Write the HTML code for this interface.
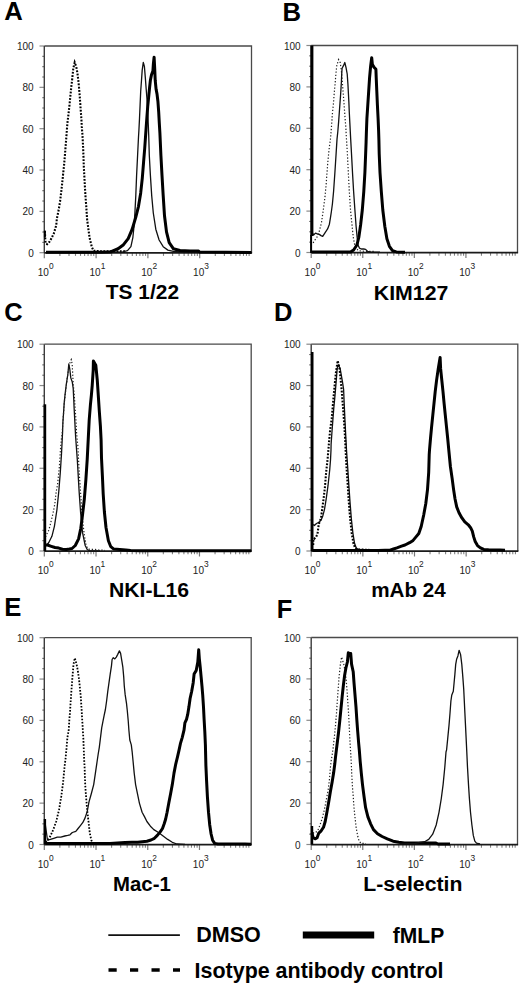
<!DOCTYPE html>
<html><head><meta charset="utf-8"><style>
html,body{margin:0;padding:0;background:#fff;}
body{width:520px;height:984px;overflow:hidden;}
svg{display:block;}
text{font-family:"Liberation Sans",sans-serif;}
.tk{font-size:10px;fill:#222;}
.sp{font-size:8.4px;fill:#222;}
.let{font-size:25.8px;font-weight:bold;fill:#000;}
.tit{font-size:20.9px;font-weight:bold;fill:#000;}
.leg{font-size:21.3px;font-weight:bold;fill:#000;}
.thin{fill:none;stroke:#111;stroke-width:1.3;stroke-linejoin:round;}
.thick{fill:none;stroke:#000;stroke-width:3;stroke-linejoin:round;}
.dot{fill:none;stroke:#000;stroke-width:2.1;stroke-dasharray:1.8 1.5;}
.dotm{fill:none;stroke:#000;stroke-width:1.8;stroke-dasharray:1.6 1.6;}
.dotl{fill:none;stroke:#222;stroke-width:1.2;stroke-dasharray:1.3 1.9;}
</style></head><body>
<svg width="520" height="984" viewBox="0 0 520 984">
<path d="M44.3 46H251.5V252.7" fill="none" stroke="#4a4a4a" stroke-width="1.3"/>
<path d="M39.5 252.7H44.3" stroke="#8a8a8a" stroke-width="1.2"/>
<text x="33.7" y="256.7" class="tk" text-anchor="end">0</text>
<path d="M42.3 242.36H44.3" stroke="#6a6a6a" stroke-width="1.1"/>
<path d="M42.3 232.03H44.3" stroke="#6a6a6a" stroke-width="1.1"/>
<path d="M42.3 221.69H44.3" stroke="#6a6a6a" stroke-width="1.1"/>
<path d="M39.5 211.36H44.3" stroke="#8a8a8a" stroke-width="1.2"/>
<text x="33.7" y="215.36" class="tk" text-anchor="end">20</text>
<path d="M42.3 201.02H44.3" stroke="#6a6a6a" stroke-width="1.1"/>
<path d="M42.3 190.69H44.3" stroke="#6a6a6a" stroke-width="1.1"/>
<path d="M42.3 180.36H44.3" stroke="#6a6a6a" stroke-width="1.1"/>
<path d="M39.5 170.02H44.3" stroke="#8a8a8a" stroke-width="1.2"/>
<text x="33.7" y="174.02" class="tk" text-anchor="end">40</text>
<path d="M42.3 159.69H44.3" stroke="#6a6a6a" stroke-width="1.1"/>
<path d="M42.3 149.35H44.3" stroke="#6a6a6a" stroke-width="1.1"/>
<path d="M42.3 139.01H44.3" stroke="#6a6a6a" stroke-width="1.1"/>
<path d="M39.5 128.68H44.3" stroke="#8a8a8a" stroke-width="1.2"/>
<text x="33.7" y="132.68" class="tk" text-anchor="end">60</text>
<path d="M42.3 118.34H44.3" stroke="#6a6a6a" stroke-width="1.1"/>
<path d="M42.3 108.01H44.3" stroke="#6a6a6a" stroke-width="1.1"/>
<path d="M42.3 97.68H44.3" stroke="#6a6a6a" stroke-width="1.1"/>
<path d="M39.5 87.34H44.3" stroke="#8a8a8a" stroke-width="1.2"/>
<text x="33.7" y="91.34" class="tk" text-anchor="end">80</text>
<path d="M42.3 77H44.3" stroke="#6a6a6a" stroke-width="1.1"/>
<path d="M42.3 66.67H44.3" stroke="#6a6a6a" stroke-width="1.1"/>
<path d="M42.3 56.34H44.3" stroke="#6a6a6a" stroke-width="1.1"/>
<path d="M39.5 46H44.3" stroke="#8a8a8a" stroke-width="1.2"/>
<text x="33.7" y="50" class="tk" text-anchor="end">100</text>
<path d="M44.3 252.7V258.2" stroke="#7a7a7a" stroke-width="1.2"/>
<text x="37.7" y="275.9" class="tk">10</text>
<text x="48.9" y="268.9" class="sp">0</text>
<path d="M59.89 252.7V255.9" stroke="#808080" stroke-width="1.1"/>
<path d="M69.01 252.7V255.9" stroke="#808080" stroke-width="1.1"/>
<path d="M75.49 252.7V255.9" stroke="#808080" stroke-width="1.1"/>
<path d="M80.51 252.7V255.9" stroke="#808080" stroke-width="1.1"/>
<path d="M84.61 252.7V255.9" stroke="#808080" stroke-width="1.1"/>
<path d="M88.08 252.7V255.9" stroke="#808080" stroke-width="1.1"/>
<path d="M91.08 252.7V255.9" stroke="#808080" stroke-width="1.1"/>
<path d="M93.73 252.7V255.9" stroke="#808080" stroke-width="1.1"/>
<path d="M96.1 252.7V258.2" stroke="#7a7a7a" stroke-width="1.2"/>
<text x="89.5" y="275.9" class="tk">10</text>
<text x="100.7" y="268.9" class="sp">1</text>
<path d="M111.69 252.7V255.9" stroke="#808080" stroke-width="1.1"/>
<path d="M120.81 252.7V255.9" stroke="#808080" stroke-width="1.1"/>
<path d="M127.29 252.7V255.9" stroke="#808080" stroke-width="1.1"/>
<path d="M132.31 252.7V255.9" stroke="#808080" stroke-width="1.1"/>
<path d="M136.41 252.7V255.9" stroke="#808080" stroke-width="1.1"/>
<path d="M139.88 252.7V255.9" stroke="#808080" stroke-width="1.1"/>
<path d="M142.88 252.7V255.9" stroke="#808080" stroke-width="1.1"/>
<path d="M145.53 252.7V255.9" stroke="#808080" stroke-width="1.1"/>
<path d="M147.9 252.7V258.2" stroke="#7a7a7a" stroke-width="1.2"/>
<text x="141.3" y="275.9" class="tk">10</text>
<text x="152.5" y="268.9" class="sp">2</text>
<path d="M163.49 252.7V255.9" stroke="#808080" stroke-width="1.1"/>
<path d="M172.61 252.7V255.9" stroke="#808080" stroke-width="1.1"/>
<path d="M179.09 252.7V255.9" stroke="#808080" stroke-width="1.1"/>
<path d="M184.11 252.7V255.9" stroke="#808080" stroke-width="1.1"/>
<path d="M188.21 252.7V255.9" stroke="#808080" stroke-width="1.1"/>
<path d="M191.68 252.7V255.9" stroke="#808080" stroke-width="1.1"/>
<path d="M194.68 252.7V255.9" stroke="#808080" stroke-width="1.1"/>
<path d="M197.33 252.7V255.9" stroke="#808080" stroke-width="1.1"/>
<path d="M199.7 252.7V258.2" stroke="#7a7a7a" stroke-width="1.2"/>
<text x="193.1" y="275.9" class="tk">10</text>
<text x="204.3" y="268.9" class="sp">3</text>
<path d="M215.29 252.7V255.9" stroke="#808080" stroke-width="1.1"/>
<path d="M224.41 252.7V255.9" stroke="#808080" stroke-width="1.1"/>
<path d="M230.89 252.7V255.9" stroke="#808080" stroke-width="1.1"/>
<path d="M235.91 252.7V255.9" stroke="#808080" stroke-width="1.1"/>
<path d="M240.01 252.7V255.9" stroke="#808080" stroke-width="1.1"/>
<path d="M243.48 252.7V255.9" stroke="#808080" stroke-width="1.1"/>
<path d="M246.48 252.7V255.9" stroke="#808080" stroke-width="1.1"/>
<path d="M249.13 252.7V255.9" stroke="#808080" stroke-width="1.1"/>
<path d="M44.3 46V252.7" stroke="#3c3c3c" stroke-width="1.4"/>
<path d="M44.3 252.9H252.1" stroke="#1a1a1a" stroke-width="1.75"/>
<path d="M311.2 45.5H517.5V252.5" fill="none" stroke="#4a4a4a" stroke-width="1.3"/>
<path d="M306.4 252.5H311.2" stroke="#8a8a8a" stroke-width="1.2"/>
<text x="300.6" y="256.5" class="tk" text-anchor="end">0</text>
<path d="M309.2 242.15H311.2" stroke="#6a6a6a" stroke-width="1.1"/>
<path d="M309.2 231.8H311.2" stroke="#6a6a6a" stroke-width="1.1"/>
<path d="M309.2 221.45H311.2" stroke="#6a6a6a" stroke-width="1.1"/>
<path d="M306.4 211.1H311.2" stroke="#8a8a8a" stroke-width="1.2"/>
<text x="300.6" y="215.1" class="tk" text-anchor="end">20</text>
<path d="M309.2 200.75H311.2" stroke="#6a6a6a" stroke-width="1.1"/>
<path d="M309.2 190.4H311.2" stroke="#6a6a6a" stroke-width="1.1"/>
<path d="M309.2 180.05H311.2" stroke="#6a6a6a" stroke-width="1.1"/>
<path d="M306.4 169.7H311.2" stroke="#8a8a8a" stroke-width="1.2"/>
<text x="300.6" y="173.7" class="tk" text-anchor="end">40</text>
<path d="M309.2 159.35H311.2" stroke="#6a6a6a" stroke-width="1.1"/>
<path d="M309.2 149H311.2" stroke="#6a6a6a" stroke-width="1.1"/>
<path d="M309.2 138.65H311.2" stroke="#6a6a6a" stroke-width="1.1"/>
<path d="M306.4 128.3H311.2" stroke="#8a8a8a" stroke-width="1.2"/>
<text x="300.6" y="132.3" class="tk" text-anchor="end">60</text>
<path d="M309.2 117.95H311.2" stroke="#6a6a6a" stroke-width="1.1"/>
<path d="M309.2 107.6H311.2" stroke="#6a6a6a" stroke-width="1.1"/>
<path d="M309.2 97.25H311.2" stroke="#6a6a6a" stroke-width="1.1"/>
<path d="M306.4 86.9H311.2" stroke="#8a8a8a" stroke-width="1.2"/>
<text x="300.6" y="90.9" class="tk" text-anchor="end">80</text>
<path d="M309.2 76.55H311.2" stroke="#6a6a6a" stroke-width="1.1"/>
<path d="M309.2 66.2H311.2" stroke="#6a6a6a" stroke-width="1.1"/>
<path d="M309.2 55.85H311.2" stroke="#6a6a6a" stroke-width="1.1"/>
<path d="M306.4 45.5H311.2" stroke="#8a8a8a" stroke-width="1.2"/>
<text x="300.6" y="49.5" class="tk" text-anchor="end">100</text>
<path d="M311.2 252.5V258" stroke="#7a7a7a" stroke-width="1.2"/>
<text x="304.6" y="275.7" class="tk">10</text>
<text x="315.8" y="268.7" class="sp">0</text>
<path d="M326.73 252.5V255.7" stroke="#808080" stroke-width="1.1"/>
<path d="M335.81 252.5V255.7" stroke="#808080" stroke-width="1.1"/>
<path d="M342.25 252.5V255.7" stroke="#808080" stroke-width="1.1"/>
<path d="M347.25 252.5V255.7" stroke="#808080" stroke-width="1.1"/>
<path d="M351.33 252.5V255.7" stroke="#808080" stroke-width="1.1"/>
<path d="M354.79 252.5V255.7" stroke="#808080" stroke-width="1.1"/>
<path d="M357.78 252.5V255.7" stroke="#808080" stroke-width="1.1"/>
<path d="M360.42 252.5V255.7" stroke="#808080" stroke-width="1.1"/>
<path d="M362.77 252.5V258" stroke="#7a7a7a" stroke-width="1.2"/>
<text x="356.17" y="275.7" class="tk">10</text>
<text x="367.38" y="268.7" class="sp">1</text>
<path d="M378.3 252.5V255.7" stroke="#808080" stroke-width="1.1"/>
<path d="M387.38 252.5V255.7" stroke="#808080" stroke-width="1.1"/>
<path d="M393.83 252.5V255.7" stroke="#808080" stroke-width="1.1"/>
<path d="M398.82 252.5V255.7" stroke="#808080" stroke-width="1.1"/>
<path d="M402.91 252.5V255.7" stroke="#808080" stroke-width="1.1"/>
<path d="M406.36 252.5V255.7" stroke="#808080" stroke-width="1.1"/>
<path d="M409.35 252.5V255.7" stroke="#808080" stroke-width="1.1"/>
<path d="M411.99 252.5V255.7" stroke="#808080" stroke-width="1.1"/>
<path d="M414.35 252.5V258" stroke="#7a7a7a" stroke-width="1.2"/>
<text x="407.75" y="275.7" class="tk">10</text>
<text x="418.95" y="268.7" class="sp">2</text>
<path d="M429.88 252.5V255.7" stroke="#808080" stroke-width="1.1"/>
<path d="M438.96 252.5V255.7" stroke="#808080" stroke-width="1.1"/>
<path d="M445.4 252.5V255.7" stroke="#808080" stroke-width="1.1"/>
<path d="M450.4 252.5V255.7" stroke="#808080" stroke-width="1.1"/>
<path d="M454.48 252.5V255.7" stroke="#808080" stroke-width="1.1"/>
<path d="M457.94 252.5V255.7" stroke="#808080" stroke-width="1.1"/>
<path d="M460.93 252.5V255.7" stroke="#808080" stroke-width="1.1"/>
<path d="M463.57 252.5V255.7" stroke="#808080" stroke-width="1.1"/>
<path d="M465.93 252.5V258" stroke="#7a7a7a" stroke-width="1.2"/>
<text x="459.32" y="275.7" class="tk">10</text>
<text x="470.53" y="268.7" class="sp">3</text>
<path d="M481.45 252.5V255.7" stroke="#808080" stroke-width="1.1"/>
<path d="M490.53 252.5V255.7" stroke="#808080" stroke-width="1.1"/>
<path d="M496.98 252.5V255.7" stroke="#808080" stroke-width="1.1"/>
<path d="M501.97 252.5V255.7" stroke="#808080" stroke-width="1.1"/>
<path d="M506.06 252.5V255.7" stroke="#808080" stroke-width="1.1"/>
<path d="M509.51 252.5V255.7" stroke="#808080" stroke-width="1.1"/>
<path d="M512.5 252.5V255.7" stroke="#808080" stroke-width="1.1"/>
<path d="M515.14 252.5V255.7" stroke="#808080" stroke-width="1.1"/>
<path d="M311.2 45.5V252.5" stroke="#3c3c3c" stroke-width="1.4"/>
<path d="M311.2 252.7H518.1" stroke="#1a1a1a" stroke-width="1.75"/>
<path d="M44.3 344.2H251.2V551" fill="none" stroke="#4a4a4a" stroke-width="1.3"/>
<path d="M39.5 551H44.3" stroke="#8a8a8a" stroke-width="1.2"/>
<text x="33.7" y="555" class="tk" text-anchor="end">0</text>
<path d="M42.3 540.66H44.3" stroke="#6a6a6a" stroke-width="1.1"/>
<path d="M42.3 530.32H44.3" stroke="#6a6a6a" stroke-width="1.1"/>
<path d="M42.3 519.98H44.3" stroke="#6a6a6a" stroke-width="1.1"/>
<path d="M39.5 509.64H44.3" stroke="#8a8a8a" stroke-width="1.2"/>
<text x="33.7" y="513.64" class="tk" text-anchor="end">20</text>
<path d="M42.3 499.3H44.3" stroke="#6a6a6a" stroke-width="1.1"/>
<path d="M42.3 488.96H44.3" stroke="#6a6a6a" stroke-width="1.1"/>
<path d="M42.3 478.62H44.3" stroke="#6a6a6a" stroke-width="1.1"/>
<path d="M39.5 468.28H44.3" stroke="#8a8a8a" stroke-width="1.2"/>
<text x="33.7" y="472.28" class="tk" text-anchor="end">40</text>
<path d="M42.3 457.94H44.3" stroke="#6a6a6a" stroke-width="1.1"/>
<path d="M42.3 447.6H44.3" stroke="#6a6a6a" stroke-width="1.1"/>
<path d="M42.3 437.26H44.3" stroke="#6a6a6a" stroke-width="1.1"/>
<path d="M39.5 426.92H44.3" stroke="#8a8a8a" stroke-width="1.2"/>
<text x="33.7" y="430.92" class="tk" text-anchor="end">60</text>
<path d="M42.3 416.58H44.3" stroke="#6a6a6a" stroke-width="1.1"/>
<path d="M42.3 406.24H44.3" stroke="#6a6a6a" stroke-width="1.1"/>
<path d="M42.3 395.9H44.3" stroke="#6a6a6a" stroke-width="1.1"/>
<path d="M39.5 385.56H44.3" stroke="#8a8a8a" stroke-width="1.2"/>
<text x="33.7" y="389.56" class="tk" text-anchor="end">80</text>
<path d="M42.3 375.22H44.3" stroke="#6a6a6a" stroke-width="1.1"/>
<path d="M42.3 364.88H44.3" stroke="#6a6a6a" stroke-width="1.1"/>
<path d="M42.3 354.54H44.3" stroke="#6a6a6a" stroke-width="1.1"/>
<path d="M39.5 344.2H44.3" stroke="#8a8a8a" stroke-width="1.2"/>
<text x="33.7" y="348.2" class="tk" text-anchor="end">100</text>
<path d="M44.3 551V556.5" stroke="#7a7a7a" stroke-width="1.2"/>
<text x="37.7" y="574.2" class="tk">10</text>
<text x="48.9" y="567.2" class="sp">0</text>
<path d="M59.87 551V554.2" stroke="#808080" stroke-width="1.1"/>
<path d="M68.98 551V554.2" stroke="#808080" stroke-width="1.1"/>
<path d="M75.44 551V554.2" stroke="#808080" stroke-width="1.1"/>
<path d="M80.45 551V554.2" stroke="#808080" stroke-width="1.1"/>
<path d="M84.55 551V554.2" stroke="#808080" stroke-width="1.1"/>
<path d="M88.01 551V554.2" stroke="#808080" stroke-width="1.1"/>
<path d="M91.01 551V554.2" stroke="#808080" stroke-width="1.1"/>
<path d="M93.66 551V554.2" stroke="#808080" stroke-width="1.1"/>
<path d="M96.02 551V556.5" stroke="#7a7a7a" stroke-width="1.2"/>
<text x="89.42" y="574.2" class="tk">10</text>
<text x="100.62" y="567.2" class="sp">1</text>
<path d="M111.6 551V554.2" stroke="#808080" stroke-width="1.1"/>
<path d="M120.7 551V554.2" stroke="#808080" stroke-width="1.1"/>
<path d="M127.17 551V554.2" stroke="#808080" stroke-width="1.1"/>
<path d="M132.18 551V554.2" stroke="#808080" stroke-width="1.1"/>
<path d="M136.27 551V554.2" stroke="#808080" stroke-width="1.1"/>
<path d="M139.74 551V554.2" stroke="#808080" stroke-width="1.1"/>
<path d="M142.74 551V554.2" stroke="#808080" stroke-width="1.1"/>
<path d="M145.38 551V554.2" stroke="#808080" stroke-width="1.1"/>
<path d="M147.75 551V556.5" stroke="#7a7a7a" stroke-width="1.2"/>
<text x="141.15" y="574.2" class="tk">10</text>
<text x="152.35" y="567.2" class="sp">2</text>
<path d="M163.32 551V554.2" stroke="#808080" stroke-width="1.1"/>
<path d="M172.43 551V554.2" stroke="#808080" stroke-width="1.1"/>
<path d="M178.89 551V554.2" stroke="#808080" stroke-width="1.1"/>
<path d="M183.9 551V554.2" stroke="#808080" stroke-width="1.1"/>
<path d="M188 551V554.2" stroke="#808080" stroke-width="1.1"/>
<path d="M191.46 551V554.2" stroke="#808080" stroke-width="1.1"/>
<path d="M194.46 551V554.2" stroke="#808080" stroke-width="1.1"/>
<path d="M197.11 551V554.2" stroke="#808080" stroke-width="1.1"/>
<path d="M199.47 551V556.5" stroke="#7a7a7a" stroke-width="1.2"/>
<text x="192.87" y="574.2" class="tk">10</text>
<text x="204.07" y="567.2" class="sp">3</text>
<path d="M215.05 551V554.2" stroke="#808080" stroke-width="1.1"/>
<path d="M224.15 551V554.2" stroke="#808080" stroke-width="1.1"/>
<path d="M230.62 551V554.2" stroke="#808080" stroke-width="1.1"/>
<path d="M235.63 551V554.2" stroke="#808080" stroke-width="1.1"/>
<path d="M239.72 551V554.2" stroke="#808080" stroke-width="1.1"/>
<path d="M243.19 551V554.2" stroke="#808080" stroke-width="1.1"/>
<path d="M246.19 551V554.2" stroke="#808080" stroke-width="1.1"/>
<path d="M248.83 551V554.2" stroke="#808080" stroke-width="1.1"/>
<path d="M44.3 344.2V551" stroke="#3c3c3c" stroke-width="1.4"/>
<path d="M44.3 551.2H251.8" stroke="#1a1a1a" stroke-width="1.75"/>
<path d="M311.2 344.2H517.8V551" fill="none" stroke="#4a4a4a" stroke-width="1.3"/>
<path d="M306.4 551H311.2" stroke="#8a8a8a" stroke-width="1.2"/>
<text x="300.6" y="555" class="tk" text-anchor="end">0</text>
<path d="M309.2 540.66H311.2" stroke="#6a6a6a" stroke-width="1.1"/>
<path d="M309.2 530.32H311.2" stroke="#6a6a6a" stroke-width="1.1"/>
<path d="M309.2 519.98H311.2" stroke="#6a6a6a" stroke-width="1.1"/>
<path d="M306.4 509.64H311.2" stroke="#8a8a8a" stroke-width="1.2"/>
<text x="300.6" y="513.64" class="tk" text-anchor="end">20</text>
<path d="M309.2 499.3H311.2" stroke="#6a6a6a" stroke-width="1.1"/>
<path d="M309.2 488.96H311.2" stroke="#6a6a6a" stroke-width="1.1"/>
<path d="M309.2 478.62H311.2" stroke="#6a6a6a" stroke-width="1.1"/>
<path d="M306.4 468.28H311.2" stroke="#8a8a8a" stroke-width="1.2"/>
<text x="300.6" y="472.28" class="tk" text-anchor="end">40</text>
<path d="M309.2 457.94H311.2" stroke="#6a6a6a" stroke-width="1.1"/>
<path d="M309.2 447.6H311.2" stroke="#6a6a6a" stroke-width="1.1"/>
<path d="M309.2 437.26H311.2" stroke="#6a6a6a" stroke-width="1.1"/>
<path d="M306.4 426.92H311.2" stroke="#8a8a8a" stroke-width="1.2"/>
<text x="300.6" y="430.92" class="tk" text-anchor="end">60</text>
<path d="M309.2 416.58H311.2" stroke="#6a6a6a" stroke-width="1.1"/>
<path d="M309.2 406.24H311.2" stroke="#6a6a6a" stroke-width="1.1"/>
<path d="M309.2 395.9H311.2" stroke="#6a6a6a" stroke-width="1.1"/>
<path d="M306.4 385.56H311.2" stroke="#8a8a8a" stroke-width="1.2"/>
<text x="300.6" y="389.56" class="tk" text-anchor="end">80</text>
<path d="M309.2 375.22H311.2" stroke="#6a6a6a" stroke-width="1.1"/>
<path d="M309.2 364.88H311.2" stroke="#6a6a6a" stroke-width="1.1"/>
<path d="M309.2 354.54H311.2" stroke="#6a6a6a" stroke-width="1.1"/>
<path d="M306.4 344.2H311.2" stroke="#8a8a8a" stroke-width="1.2"/>
<text x="300.6" y="348.2" class="tk" text-anchor="end">100</text>
<path d="M311.2 551V556.5" stroke="#7a7a7a" stroke-width="1.2"/>
<text x="304.6" y="574.2" class="tk">10</text>
<text x="315.8" y="567.2" class="sp">0</text>
<path d="M326.75 551V554.2" stroke="#808080" stroke-width="1.1"/>
<path d="M335.84 551V554.2" stroke="#808080" stroke-width="1.1"/>
<path d="M342.3 551V554.2" stroke="#808080" stroke-width="1.1"/>
<path d="M347.3 551V554.2" stroke="#808080" stroke-width="1.1"/>
<path d="M351.39 551V554.2" stroke="#808080" stroke-width="1.1"/>
<path d="M354.85 551V554.2" stroke="#808080" stroke-width="1.1"/>
<path d="M357.84 551V554.2" stroke="#808080" stroke-width="1.1"/>
<path d="M360.49 551V554.2" stroke="#808080" stroke-width="1.1"/>
<path d="M362.85 551V556.5" stroke="#7a7a7a" stroke-width="1.2"/>
<text x="356.25" y="574.2" class="tk">10</text>
<text x="367.45" y="567.2" class="sp">1</text>
<path d="M378.4 551V554.2" stroke="#808080" stroke-width="1.1"/>
<path d="M387.49 551V554.2" stroke="#808080" stroke-width="1.1"/>
<path d="M393.95 551V554.2" stroke="#808080" stroke-width="1.1"/>
<path d="M398.95 551V554.2" stroke="#808080" stroke-width="1.1"/>
<path d="M403.04 551V554.2" stroke="#808080" stroke-width="1.1"/>
<path d="M406.5 551V554.2" stroke="#808080" stroke-width="1.1"/>
<path d="M409.49 551V554.2" stroke="#808080" stroke-width="1.1"/>
<path d="M412.14 551V554.2" stroke="#808080" stroke-width="1.1"/>
<path d="M414.5 551V556.5" stroke="#7a7a7a" stroke-width="1.2"/>
<text x="407.9" y="574.2" class="tk">10</text>
<text x="419.1" y="567.2" class="sp">2</text>
<path d="M430.05 551V554.2" stroke="#808080" stroke-width="1.1"/>
<path d="M439.14 551V554.2" stroke="#808080" stroke-width="1.1"/>
<path d="M445.6 551V554.2" stroke="#808080" stroke-width="1.1"/>
<path d="M450.6 551V554.2" stroke="#808080" stroke-width="1.1"/>
<path d="M454.69 551V554.2" stroke="#808080" stroke-width="1.1"/>
<path d="M458.15 551V554.2" stroke="#808080" stroke-width="1.1"/>
<path d="M461.14 551V554.2" stroke="#808080" stroke-width="1.1"/>
<path d="M463.79 551V554.2" stroke="#808080" stroke-width="1.1"/>
<path d="M466.15 551V556.5" stroke="#7a7a7a" stroke-width="1.2"/>
<text x="459.55" y="574.2" class="tk">10</text>
<text x="470.75" y="567.2" class="sp">3</text>
<path d="M481.7 551V554.2" stroke="#808080" stroke-width="1.1"/>
<path d="M490.79 551V554.2" stroke="#808080" stroke-width="1.1"/>
<path d="M497.25 551V554.2" stroke="#808080" stroke-width="1.1"/>
<path d="M502.25 551V554.2" stroke="#808080" stroke-width="1.1"/>
<path d="M506.34 551V554.2" stroke="#808080" stroke-width="1.1"/>
<path d="M509.8 551V554.2" stroke="#808080" stroke-width="1.1"/>
<path d="M512.79 551V554.2" stroke="#808080" stroke-width="1.1"/>
<path d="M515.44 551V554.2" stroke="#808080" stroke-width="1.1"/>
<path d="M311.2 344.2V551" stroke="#3c3c3c" stroke-width="1.4"/>
<path d="M311.2 551.2H518.4" stroke="#1a1a1a" stroke-width="1.75"/>
<path d="M44.3 637.7H251.2V844.5" fill="none" stroke="#4a4a4a" stroke-width="1.3"/>
<path d="M39.5 844.5H44.3" stroke="#8a8a8a" stroke-width="1.2"/>
<text x="33.7" y="848.5" class="tk" text-anchor="end">0</text>
<path d="M42.3 834.16H44.3" stroke="#6a6a6a" stroke-width="1.1"/>
<path d="M42.3 823.82H44.3" stroke="#6a6a6a" stroke-width="1.1"/>
<path d="M42.3 813.48H44.3" stroke="#6a6a6a" stroke-width="1.1"/>
<path d="M39.5 803.14H44.3" stroke="#8a8a8a" stroke-width="1.2"/>
<text x="33.7" y="807.14" class="tk" text-anchor="end">20</text>
<path d="M42.3 792.8H44.3" stroke="#6a6a6a" stroke-width="1.1"/>
<path d="M42.3 782.46H44.3" stroke="#6a6a6a" stroke-width="1.1"/>
<path d="M42.3 772.12H44.3" stroke="#6a6a6a" stroke-width="1.1"/>
<path d="M39.5 761.78H44.3" stroke="#8a8a8a" stroke-width="1.2"/>
<text x="33.7" y="765.78" class="tk" text-anchor="end">40</text>
<path d="M42.3 751.44H44.3" stroke="#6a6a6a" stroke-width="1.1"/>
<path d="M42.3 741.1H44.3" stroke="#6a6a6a" stroke-width="1.1"/>
<path d="M42.3 730.76H44.3" stroke="#6a6a6a" stroke-width="1.1"/>
<path d="M39.5 720.42H44.3" stroke="#8a8a8a" stroke-width="1.2"/>
<text x="33.7" y="724.42" class="tk" text-anchor="end">60</text>
<path d="M42.3 710.08H44.3" stroke="#6a6a6a" stroke-width="1.1"/>
<path d="M42.3 699.74H44.3" stroke="#6a6a6a" stroke-width="1.1"/>
<path d="M42.3 689.4H44.3" stroke="#6a6a6a" stroke-width="1.1"/>
<path d="M39.5 679.06H44.3" stroke="#8a8a8a" stroke-width="1.2"/>
<text x="33.7" y="683.06" class="tk" text-anchor="end">80</text>
<path d="M42.3 668.72H44.3" stroke="#6a6a6a" stroke-width="1.1"/>
<path d="M42.3 658.38H44.3" stroke="#6a6a6a" stroke-width="1.1"/>
<path d="M42.3 648.04H44.3" stroke="#6a6a6a" stroke-width="1.1"/>
<path d="M39.5 637.7H44.3" stroke="#8a8a8a" stroke-width="1.2"/>
<text x="33.7" y="641.7" class="tk" text-anchor="end">100</text>
<path d="M44.3 844.5V850" stroke="#7a7a7a" stroke-width="1.2"/>
<text x="37.7" y="867.7" class="tk">10</text>
<text x="48.9" y="860.7" class="sp">0</text>
<path d="M59.87 844.5V847.7" stroke="#808080" stroke-width="1.1"/>
<path d="M68.98 844.5V847.7" stroke="#808080" stroke-width="1.1"/>
<path d="M75.44 844.5V847.7" stroke="#808080" stroke-width="1.1"/>
<path d="M80.45 844.5V847.7" stroke="#808080" stroke-width="1.1"/>
<path d="M84.55 844.5V847.7" stroke="#808080" stroke-width="1.1"/>
<path d="M88.01 844.5V847.7" stroke="#808080" stroke-width="1.1"/>
<path d="M91.01 844.5V847.7" stroke="#808080" stroke-width="1.1"/>
<path d="M93.66 844.5V847.7" stroke="#808080" stroke-width="1.1"/>
<path d="M96.02 844.5V850" stroke="#7a7a7a" stroke-width="1.2"/>
<text x="89.42" y="867.7" class="tk">10</text>
<text x="100.62" y="860.7" class="sp">1</text>
<path d="M111.6 844.5V847.7" stroke="#808080" stroke-width="1.1"/>
<path d="M120.7 844.5V847.7" stroke="#808080" stroke-width="1.1"/>
<path d="M127.17 844.5V847.7" stroke="#808080" stroke-width="1.1"/>
<path d="M132.18 844.5V847.7" stroke="#808080" stroke-width="1.1"/>
<path d="M136.27 844.5V847.7" stroke="#808080" stroke-width="1.1"/>
<path d="M139.74 844.5V847.7" stroke="#808080" stroke-width="1.1"/>
<path d="M142.74 844.5V847.7" stroke="#808080" stroke-width="1.1"/>
<path d="M145.38 844.5V847.7" stroke="#808080" stroke-width="1.1"/>
<path d="M147.75 844.5V850" stroke="#7a7a7a" stroke-width="1.2"/>
<text x="141.15" y="867.7" class="tk">10</text>
<text x="152.35" y="860.7" class="sp">2</text>
<path d="M163.32 844.5V847.7" stroke="#808080" stroke-width="1.1"/>
<path d="M172.43 844.5V847.7" stroke="#808080" stroke-width="1.1"/>
<path d="M178.89 844.5V847.7" stroke="#808080" stroke-width="1.1"/>
<path d="M183.9 844.5V847.7" stroke="#808080" stroke-width="1.1"/>
<path d="M188 844.5V847.7" stroke="#808080" stroke-width="1.1"/>
<path d="M191.46 844.5V847.7" stroke="#808080" stroke-width="1.1"/>
<path d="M194.46 844.5V847.7" stroke="#808080" stroke-width="1.1"/>
<path d="M197.11 844.5V847.7" stroke="#808080" stroke-width="1.1"/>
<path d="M199.47 844.5V850" stroke="#7a7a7a" stroke-width="1.2"/>
<text x="192.87" y="867.7" class="tk">10</text>
<text x="204.07" y="860.7" class="sp">3</text>
<path d="M215.05 844.5V847.7" stroke="#808080" stroke-width="1.1"/>
<path d="M224.15 844.5V847.7" stroke="#808080" stroke-width="1.1"/>
<path d="M230.62 844.5V847.7" stroke="#808080" stroke-width="1.1"/>
<path d="M235.63 844.5V847.7" stroke="#808080" stroke-width="1.1"/>
<path d="M239.72 844.5V847.7" stroke="#808080" stroke-width="1.1"/>
<path d="M243.19 844.5V847.7" stroke="#808080" stroke-width="1.1"/>
<path d="M246.19 844.5V847.7" stroke="#808080" stroke-width="1.1"/>
<path d="M248.83 844.5V847.7" stroke="#808080" stroke-width="1.1"/>
<path d="M44.3 637.7V844.5" stroke="#3c3c3c" stroke-width="1.4"/>
<path d="M44.3 844.7H251.8" stroke="#1a1a1a" stroke-width="1.75"/>
<path d="M311.2 637.5H517.5V844.5" fill="none" stroke="#4a4a4a" stroke-width="1.3"/>
<path d="M306.4 844.5H311.2" stroke="#8a8a8a" stroke-width="1.2"/>
<text x="300.6" y="848.5" class="tk" text-anchor="end">0</text>
<path d="M309.2 834.15H311.2" stroke="#6a6a6a" stroke-width="1.1"/>
<path d="M309.2 823.8H311.2" stroke="#6a6a6a" stroke-width="1.1"/>
<path d="M309.2 813.45H311.2" stroke="#6a6a6a" stroke-width="1.1"/>
<path d="M306.4 803.1H311.2" stroke="#8a8a8a" stroke-width="1.2"/>
<text x="300.6" y="807.1" class="tk" text-anchor="end">20</text>
<path d="M309.2 792.75H311.2" stroke="#6a6a6a" stroke-width="1.1"/>
<path d="M309.2 782.4H311.2" stroke="#6a6a6a" stroke-width="1.1"/>
<path d="M309.2 772.05H311.2" stroke="#6a6a6a" stroke-width="1.1"/>
<path d="M306.4 761.7H311.2" stroke="#8a8a8a" stroke-width="1.2"/>
<text x="300.6" y="765.7" class="tk" text-anchor="end">40</text>
<path d="M309.2 751.35H311.2" stroke="#6a6a6a" stroke-width="1.1"/>
<path d="M309.2 741H311.2" stroke="#6a6a6a" stroke-width="1.1"/>
<path d="M309.2 730.65H311.2" stroke="#6a6a6a" stroke-width="1.1"/>
<path d="M306.4 720.3H311.2" stroke="#8a8a8a" stroke-width="1.2"/>
<text x="300.6" y="724.3" class="tk" text-anchor="end">60</text>
<path d="M309.2 709.95H311.2" stroke="#6a6a6a" stroke-width="1.1"/>
<path d="M309.2 699.6H311.2" stroke="#6a6a6a" stroke-width="1.1"/>
<path d="M309.2 689.25H311.2" stroke="#6a6a6a" stroke-width="1.1"/>
<path d="M306.4 678.9H311.2" stroke="#8a8a8a" stroke-width="1.2"/>
<text x="300.6" y="682.9" class="tk" text-anchor="end">80</text>
<path d="M309.2 668.55H311.2" stroke="#6a6a6a" stroke-width="1.1"/>
<path d="M309.2 658.2H311.2" stroke="#6a6a6a" stroke-width="1.1"/>
<path d="M309.2 647.85H311.2" stroke="#6a6a6a" stroke-width="1.1"/>
<path d="M306.4 637.5H311.2" stroke="#8a8a8a" stroke-width="1.2"/>
<text x="300.6" y="641.5" class="tk" text-anchor="end">100</text>
<path d="M311.2 844.5V850" stroke="#7a7a7a" stroke-width="1.2"/>
<text x="304.6" y="867.7" class="tk">10</text>
<text x="315.8" y="860.7" class="sp">0</text>
<path d="M326.73 844.5V847.7" stroke="#808080" stroke-width="1.1"/>
<path d="M335.81 844.5V847.7" stroke="#808080" stroke-width="1.1"/>
<path d="M342.25 844.5V847.7" stroke="#808080" stroke-width="1.1"/>
<path d="M347.25 844.5V847.7" stroke="#808080" stroke-width="1.1"/>
<path d="M351.33 844.5V847.7" stroke="#808080" stroke-width="1.1"/>
<path d="M354.79 844.5V847.7" stroke="#808080" stroke-width="1.1"/>
<path d="M357.78 844.5V847.7" stroke="#808080" stroke-width="1.1"/>
<path d="M360.42 844.5V847.7" stroke="#808080" stroke-width="1.1"/>
<path d="M362.77 844.5V850" stroke="#7a7a7a" stroke-width="1.2"/>
<text x="356.17" y="867.7" class="tk">10</text>
<text x="367.38" y="860.7" class="sp">1</text>
<path d="M378.3 844.5V847.7" stroke="#808080" stroke-width="1.1"/>
<path d="M387.38 844.5V847.7" stroke="#808080" stroke-width="1.1"/>
<path d="M393.83 844.5V847.7" stroke="#808080" stroke-width="1.1"/>
<path d="M398.82 844.5V847.7" stroke="#808080" stroke-width="1.1"/>
<path d="M402.91 844.5V847.7" stroke="#808080" stroke-width="1.1"/>
<path d="M406.36 844.5V847.7" stroke="#808080" stroke-width="1.1"/>
<path d="M409.35 844.5V847.7" stroke="#808080" stroke-width="1.1"/>
<path d="M411.99 844.5V847.7" stroke="#808080" stroke-width="1.1"/>
<path d="M414.35 844.5V850" stroke="#7a7a7a" stroke-width="1.2"/>
<text x="407.75" y="867.7" class="tk">10</text>
<text x="418.95" y="860.7" class="sp">2</text>
<path d="M429.88 844.5V847.7" stroke="#808080" stroke-width="1.1"/>
<path d="M438.96 844.5V847.7" stroke="#808080" stroke-width="1.1"/>
<path d="M445.4 844.5V847.7" stroke="#808080" stroke-width="1.1"/>
<path d="M450.4 844.5V847.7" stroke="#808080" stroke-width="1.1"/>
<path d="M454.48 844.5V847.7" stroke="#808080" stroke-width="1.1"/>
<path d="M457.94 844.5V847.7" stroke="#808080" stroke-width="1.1"/>
<path d="M460.93 844.5V847.7" stroke="#808080" stroke-width="1.1"/>
<path d="M463.57 844.5V847.7" stroke="#808080" stroke-width="1.1"/>
<path d="M465.93 844.5V850" stroke="#7a7a7a" stroke-width="1.2"/>
<text x="459.32" y="867.7" class="tk">10</text>
<text x="470.53" y="860.7" class="sp">3</text>
<path d="M481.45 844.5V847.7" stroke="#808080" stroke-width="1.1"/>
<path d="M490.53 844.5V847.7" stroke="#808080" stroke-width="1.1"/>
<path d="M496.98 844.5V847.7" stroke="#808080" stroke-width="1.1"/>
<path d="M501.97 844.5V847.7" stroke="#808080" stroke-width="1.1"/>
<path d="M506.06 844.5V847.7" stroke="#808080" stroke-width="1.1"/>
<path d="M509.51 844.5V847.7" stroke="#808080" stroke-width="1.1"/>
<path d="M512.5 844.5V847.7" stroke="#808080" stroke-width="1.1"/>
<path d="M515.14 844.5V847.7" stroke="#808080" stroke-width="1.1"/>
<path d="M311.2 637.5V844.5" stroke="#3c3c3c" stroke-width="1.4"/>
<path d="M311.2 844.7H518.1" stroke="#1a1a1a" stroke-width="1.75"/>
<path d="M44.9 231 L45.2 238 L45.6 243.5 L47.2 244.2 L48.5 243.2 L50.3 240.5 L51.6 238 L53.8 233.5 L56.2 225.4 L56.9 218.5 L58.7 209.8 L60.1 201.2 L61.5 189.6 L63 175.2 L64.2 163.7 L65.4 149.2 L66.6 133.5 L67.4 123.2 L68.5 114 L69.5 104.9 L70.4 95.7 L71.3 86.6 L72.4 77.4 L73.3 68.3 L74.7 62.4 L76.2 66.5 L77.4 72.9 L78.3 80.2 L79.2 89.3 L79.9 98.5 L80.6 108.6 L81.3 117.7 L81.8 126.9 L82.4 134 L83.2 149.2 L83.8 166.5 L84.6 181 L85.4 195.4 L86.3 206.9 L87 218.5 L87.9 225.4 L89.6 238 L91.9 247.3 L93.7 250.8 L100 251.2 L112 251.2 L125 251.4" class="dot"/>
<path d="M110 252 L122.1 252.1 L127.5 250.7 L130.9 246.7 L132.9 237.3 L134 226.5 L134.9 213 L135.8 195.6 L136.6 175.4 L137.6 155.2 L138.5 137 L138.9 130.5 L139.5 118.6 L140.1 104.9 L140.7 91.2 L141.5 80.2 L142.2 70.1 L143.3 62.4 L144.4 66.5 L145.3 77.4 L146.2 89.3 L147 99.4 L147.7 112.2 L148.3 125 L148.7 135 L149.3 155.2 L150.4 175.4 L151.7 195.6 L153.3 213 L155.8 229.2 L159.1 240 L163.2 246.7 L167.9 250.1 L173.3 251.4 L180 252 L200 252" class="thin"/>
<path d="M46 252.2 L100 252.2 L110 252.1 L118.1 248.7 L123.5 244.7 L128.2 238.6 L132.2 229.2 L135.8 217.1 L138.5 206.3 L140.7 192.9 L142.3 178.1 L143.6 161.9 L144.7 148.5 L145.5 137 L146.8 118.6 L147.7 106.7 L148.6 97.6 L149.5 88.4 L150.4 80.2 L151.5 74.7 L152.9 71 L153.4 63.7 L154.1 57.2 L154.7 68.3 L155.2 80.2 L156.1 89.3 L157 93.9 L157.9 101.2 L158.7 112.2 L159.3 123.2 L159.9 133 L160.9 155.2 L162 175.4 L163.2 195.6 L164.5 215.8 L166.5 231.9 L169.2 242.7 L173.3 248.7 L180 250.5 L190 251 L198.6 251.1 L199.5 252 L251.5 252.4" class="thick"/>
<path d="M313.2 243 L314 241.3 L316.8 237.5 L319.3 231.3 L321.5 222.5 L323.3 210 L324.9 197.5 L326.1 185 L327 172.5 L328 160 L329.3 147.5 L330.4 139.4 L331.1 131.7 L331.8 122.1 L332.5 112.5 L333.5 102.9 L334.2 93.3 L335.1 83.7 L335.9 74 L336.8 65.4 L338.6 59.6 L340.2 62.5 L341.2 69.2 L342.1 78.8 L342.8 88.5 L343.6 98.1 L344.3 107.7 L345 117.3 L345.8 126.9 L346.3 136.3 L347.4 153.8 L348.3 172.5 L349.3 191.3 L350.5 210 L352 225 L353.3 237.5 L354.5 243.8 L356.1 247.5 L358 250.5 L362 251.2 L375 251.5" class="dotl"/>
<path d="M312.5 233 L313.6 235 L315.5 233.1 L317.4 233.8 L319.3 234.4 L321 235.6 L322.7 236.4 L325.3 232.3 L327.6 228.9 L329.4 224.2 L330.5 217.3 L331.4 211.5 L332.4 204 L333.6 191.3 L334.9 172.5 L336.1 153.8 L337 139.4 L337.8 131.7 L338.6 122.1 L339.3 112.5 L340 102.9 L340.7 93.3 L341.4 81.7 L341.7 74 L342.1 68.3 L343.6 65.4 L344.8 62.5 L346 67.3 L347.2 74 L347.9 83.7 L348.4 93.3 L348.9 102.9 L349.3 112.5 L349.8 122.1 L350.3 131.7 L350.7 139.4 L351.5 153.8 L352.5 172.5 L353.6 191.3 L354.9 210 L356.1 226.3 L357.4 240 L358 245 L359.4 248.1 L361.3 249 L363.8 249 L365.6 249.4 L367.5 251.3 L371.3 252.1 L380 252.2" class="thin"/>
<path d="M312 252.1 L350.5 252.1 L353.6 250 L356.9 245 L358.8 237.5 L360.6 225 L362.3 210 L363.8 191.3 L364.9 172.5 L365.6 155 L366.1 142 L366.4 132 L366.9 118.6 L367.8 104.9 L368.7 91.2 L369.6 77.4 L370.6 66.5 L371.7 57.7 L372.4 64.6 L373.8 66.9 L375.9 69.2 L376.2 77.4 L376.8 91.2 L377.4 104.9 L378.1 118.6 L378.6 130.5 L378.9 140 L379.2 153.8 L380 172.5 L381.3 191.3 L382.8 210 L384.8 226.3 L386.9 238.8 L389.4 246.3 L392.5 250.6 L396.3 251.9 L405 252.2" class="thick"/>
<path d="M45.5 546 L46.9 545 L48.8 542.5 L51.9 536.3 L54.4 526.3 L56.9 510 L58.8 491.3 L60.3 472.5 L61.5 453.8 L62.2 440 L62.6 431.7 L62.9 422.1 L63.6 412.5 L64.2 402.9 L65.2 393.3 L66.4 383.7 L67.9 374 L68.8 364 L69.8 369.2 L70.8 377.9 L72.2 381.7 L73.2 388.5 L73.7 398.1 L74.1 407.7 L74.6 417.3 L75.1 426.9 L75.6 436.5 L77.3 459.6 L79.2 492.6 L80.6 512.5 L82.5 532.3 L85.2 545.5 L87.2 549.5 L90 551 L100 551" class="thin"/>
<path d="M45.5 537 L46.8 534 L48.3 531.5 L49.8 526.6 L51 521.7 L52.5 515.6 L53.8 509.5 L54.9 503.4 L55.6 496.7 L56.5 490 L57.5 485 L59.4 466.3 L60.6 447.5 L61.6 437 L62.1 434.6 L62.7 425 L63.4 415.4 L64 405.8 L65 396.2 L66.2 386.5 L67.4 376.9 L68.8 367.3 L70.3 361.5 L71.3 359.6 L72.2 364.4 L72.7 374 L73.2 383.7 L74.1 393.3 L74.8 402.9 L75.4 412.5 L76.1 422.1 L76.5 431.7 L77.2 440 L77.9 446.4 L79.2 472.8 L80.6 492.6 L81.9 512.5 L83.2 525.7 L84.5 536.2 L85.9 544.2 L87.8 548.8 L90 549.4 L95 549.4 L98.8 550 L105 550.3" class="dotl"/>
<path d="M45 545 L47.5 545 L51.3 546.3 L55 547.5 L58.8 548.1 L62.5 549.2 L66.3 549.4 L69.4 549 L72 548.5 L75.3 545.5 L78.6 538.9 L80.8 528.3 L82.5 515.1 L84.3 499.3 L85.9 479.4 L87.2 459.6 L88.2 439.8 L89.2 420 L90.4 405 L91.4 395 L92.2 385.6 L93.2 370.3 L93.4 361 L95.8 365.2 L97.3 380.5 L98.3 395.7 L99.3 411 L100.4 426.2 L101.1 440 L101.5 458 L102.4 476 L103.2 494 L104.4 512 L106 527.5 L108.4 540.7 L110.8 546.7 L113.8 549.1 L119.8 549.4 L125.8 550 L130.6 550.6 L140 550.8 L251.2 550.7" class="thick"/>
<path d="M313 524.5 L314.4 525.5 L316.5 523.5 L318.8 522.4 L321 520.2 L322.7 516.3 L324.5 509.3 L326.2 498.8 L328 485.7 L329.7 470 L330.5 460 L331 450 L331.1 444.4 L331.9 432.7 L332.8 421 L333.7 409.3 L334.8 397.6 L336 383.6 L337.2 368.4 L338.3 364.8 L340.1 368.4 L342.4 381.3 L343.6 389.4 L344.2 403.5 L345 421 L345.9 438.6 L346.5 450 L347.7 467.3 L348.8 484.6 L350 501.9 L351.4 519.2 L352.9 533.1 L354.6 543.5 L356.3 548.1 L358.7 549.8 L365 550.3" class="thin"/>
<path d="M313.2 545 L313.4 539 L314 539 L316.2 536.8 L317.5 533.8 L318.8 524.1 L321 518 L322.3 508.4 L323.6 498.8 L324.9 487.5 L326.2 471.7 L327.5 460 L328.4 450 L329 442.1 L330.1 430.4 L331.7 418.7 L332.7 407 L333.7 395.3 L334.8 383.6 L336 371.9 L337.7 360.7 L339.5 368.4 L340.7 380.1 L341.8 391.8 L342.7 403.5 L343.6 415.2 L344.4 426.9 L345.1 438.6 L345.6 450 L346.5 467.3 L347.7 484.6 L348.8 501.9 L350.2 519.2 L351.7 533.1 L353.5 543.5 L355.2 548.1 L356.9 549.2 L362 549.6 L370 550" class="dot"/>
<path d="M313 550.4 L378 550.4 L385 550.3 L390 550.2 L393.5 549 L396.9 547.9 L401.5 546.2 L405 545 L409.6 542.7 L413.1 540.4 L416 536.9 L418.8 533.5 L421.2 526.5 L423.7 515 L425.8 503.5 L427.5 489.6 L428.7 472.3 L429.2 455 L429.5 450.2 L430.5 438.5 L431.6 426.8 L432.8 415.1 L434 403.4 L435.2 391.7 L436.6 380.1 L438.3 368.4 L440.1 357.4 L440.6 368.4 L441.8 380.1 L443 391.7 L444.1 403.4 L445.3 415.1 L446.5 426.8 L447.7 438.5 L448.8 450.2 L450.4 466.5 L452.1 478.1 L453.6 489.6 L455 498.8 L456.7 506.9 L459 512.7 L461.9 517.9 L464.8 521.9 L468.3 524.8 L470.6 527.7 L472.3 531.2 L473.7 536.9 L475.2 541.5 L477.5 545.6 L480.4 547.9 L483.8 549.4 L488.5 549.8 L494.2 550.1 L500 550 L505 550.3" class="thick"/>
<path d="M45.5 842 L48.1 840 L50.4 836 L53.3 829.6 L56.2 821.5 L59 810 L61.3 796.2 L63.1 782.3 L64.5 767.3 L65.6 758.3 L66.6 747.3 L67.4 737.6 L68.7 730.2 L69.3 720.5 L70.1 710.7 L70.7 701 L71.3 692.4 L72 682.7 L72.7 674.1 L73.5 664.4 L74.8 658 L76.6 664.4 L77.8 670.5 L79 679 L80 688.8 L80.9 698.5 L81.5 708.3 L82.1 718 L82.7 727.8 L83.3 737.6 L83.7 747.3 L84.1 758.3 L84.6 767.3 L85.2 784.6 L86.2 798.5 L87.3 811.2 L88.5 821.5 L89.8 833.1 L91.3 840 L92.5 842.9 L94 843.3" class="dotm"/>
<path d="M44.6 819.5 L47.5 840 L50.4 839.4 L53.8 838.3 L57.3 837.1 L60.8 837.1 L64.8 836 L67.7 835.4 L70 834.8 L72.3 832.5 L75.8 831.3 L78.1 828.5 L80.4 825.6 L82.7 822.7 L85 818.1 L87.3 811.2 L89 801.9 L91.3 793.8 L93.7 784.6 L95.4 773.1 L97.1 761.5 L98.2 754 L99.3 747.3 L100.5 737.6 L101.7 727.8 L102.9 721.7 L104.1 715.6 L105.4 709.5 L106.6 701 L107.8 691.2 L109 682.7 L110.2 674.1 L111.5 665.6 L112.1 659.5 L113.3 657.7 L114.8 658.9 L116.3 657.1 L117.6 654.6 L119.4 650.9 L120.6 653.4 L121.8 660.7 L122.8 666.8 L123.7 676.6 L124.3 686.3 L125.2 694.9 L126.5 703.4 L127.3 710.7 L128.2 720.5 L128.9 730.2 L129.8 740 L131.3 744.9 L132.2 752.2 L133.1 761.5 L134.2 773.1 L135.6 784.6 L137.5 793.8 L139.4 803.1 L142.1 812.3 L144.6 816.9 L146.9 821.5 L150.4 826.2 L153.8 829.6 L158.5 832.5 L163.1 836 L167.7 839.4 L172.3 842.3 L176.9 844 L185 844.3" class="thin"/>
<path d="M46 843.6 L110 843.6 L125 842.6 L131.9 842.3 L137.7 842.3 L142.3 841.7 L146.9 841.2 L151 840 L154.4 838.3 L157.3 835.4 L160.2 831.9 L162.5 828.5 L164.2 823.8 L165.6 819.2 L167.1 812.3 L168.8 803.1 L170.6 793.8 L172.3 784.6 L174 773.1 L175.8 763.8 L177.5 756.9 L179.1 749.8 L180.4 743.7 L182.2 737.6 L184 730.2 L184.9 722.9 L186.5 719.3 L187.7 714.4 L188.9 707.1 L190.1 698.5 L191.7 691.2 L193.2 682.7 L194.1 674.1 L196.2 670.5 L197.8 662 L198.7 649.8 L199.3 658.3 L200.2 666.8 L201.1 676.6 L202 686.3 L202.7 694.9 L203.5 707.1 L204.1 719.3 L204.8 731.5 L205.4 745 L205.9 765.6 L206.6 781.1 L207.4 796.7 L208.5 812.2 L209.7 824.7 L211.1 834 L212.6 840.2 L214.7 843.4 L217.8 844 L245 844 L251.2 844.2" class="thick"/>
<path d="M311.9 826 L312.5 830 L313.7 833.1 L315.5 832.5 L317.7 830.8 L320 825 L322.3 818.1 L324.6 808.8 L326.3 799.6 L328.1 790.4 L329.5 778.8 L330.4 767.3 L331.3 760 L332.3 754 L333.1 748 L334.3 737.6 L335.5 725.4 L336.5 713.2 L337.3 701 L338.2 688.8 L339.1 676.6 L340.4 664.4 L341.6 657 L343.8 664.4 L345.2 671.7 L346.2 680.2 L347.1 691.2 L347.9 703.4 L348.7 715.6 L349.3 727.8 L349.9 740 L350.5 750 L351.2 761.5 L351.7 773.1 L352.3 784.6 L353.2 796.2 L354 807.7 L355.2 819.2 L356.3 828.5 L357.8 836.5 L359.2 841.2 L361 843.3 L366 843.6" class="dotl"/>
<path d="M312 833 L313.1 837.7 L315.4 838.8 L317.1 837.7 L318.8 833.1 L321.2 830.8 L323.5 827.3 L325.2 821.5 L326.9 812.3 L328.7 801.9 L330.4 791.5 L332.1 782.3 L333.6 773.1 L334.8 763.8 L335.5 757.1 L337 744.9 L338.5 732.7 L339.8 720.5 L341 708.3 L342.2 696.1 L343.4 685.1 L344.6 675.4 L345.9 668 L347.4 662 L348.3 652.8 L349.5 653.5 L350.7 653.4 L351.6 664.4 L353.2 671.7 L354 682.7 L355 694.9 L356 707.1 L356.8 719.3 L357.7 731.5 L358.7 743.7 L359.3 750 L360.2 761.5 L361.3 773.1 L362.5 784.6 L364 796.2 L365.6 807.7 L367.9 816.9 L370.6 823.8 L373.5 829.6 L377.5 833.7 L382.1 836.5 L387.3 838.8 L393.1 841.2 L398.8 842.3 L404.6 842.9 L415 843 L436 843 L438 844 L450 844" class="thick"/>
<path d="M400 844 L415 843.5 L420 842.3 L424.6 841.7 L428.7 839.4 L432.7 834.2 L436.2 825 L439 812.3 L441.3 798.5 L443.1 784.6 L444.8 767.3 L446 752 L446.6 749.8 L447.8 737.6 L449 725.4 L450 713.2 L450.9 701 L451.8 694.9 L453.3 691.2 L454.1 682.7 L454.9 674.1 L455.7 664.4 L456.7 658.9 L457.9 655.9 L459.1 650.3 L460.6 654.6 L461.8 664.4 L462.8 676.6 L463.7 688.8 L464.3 701 L464.9 713.2 L465.5 725.4 L466.1 737.6 L466.7 750 L467.5 767.3 L468.5 784.6 L469.4 798.5 L470.5 812.3 L471.9 825 L473.3 835.4 L474.8 841.2 L476.5 843.2 L480 844" class="thin"/>
<path d="M44.9 237.5V230.6" stroke="#000" stroke-width="2"/>
<path d="M311.9 236V45.5" stroke="#000" stroke-width="3"/>
<path d="M311.1 253V235" stroke="#000" stroke-width="2"/>
<path d="M44.9 551V404.3" stroke="#000" stroke-width="2.6"/>
<path d="M312.2 551V352" stroke="#000" stroke-width="2.6"/>
<path d="M44.9 844.5V819" stroke="#000" stroke-width="2.4"/>
<path d="M312 844.5V826" stroke="#000" stroke-width="2.4"/>
<path d="M108.3 935.1H179.9" stroke="#111" stroke-width="1.8"/>
<path d="M302.8 935.05H374.2" stroke="#000" stroke-width="6.9"/>
<path d="M108.5 970H180" stroke="#000" stroke-width="3.4" stroke-dasharray="8.2 13.3"/>
<text transform="translate(4.16 19.55) scale(0.9946 1)" class="let">A</text>
<text transform="translate(282.53 20.75) scale(0.9956 1)" class="let">B</text>
<text transform="translate(4.18 320.65) scale(0.9852 1)" class="let">C</text>
<text transform="translate(273.94 321.4) scale(0.9916 1)" class="let">D</text>
<text transform="translate(4.13 615.85) scale(0.9939 1)" class="let">E</text>
<text transform="translate(276.85 618.27) scale(0.9826 1)" class="let">F</text>
<text transform="translate(105.79 299.47) scale(1.0013 1)" class="tit">TS 1/22</text>
<text transform="translate(373.82 299.87) scale(1.0190 1)" class="tit">KIM127</text>
<text transform="translate(109.02 596.91) scale(1.0142 1)" class="tit">NKI-L16</text>
<text transform="translate(371.16 596.67) scale(0.9880 1)" class="tit">mAb 24</text>
<text transform="translate(113.08 890.86) scale(0.9744 1)" class="tit">Mac-1</text>
<text transform="translate(363.32 890.77) scale(1.0160 1)" class="tit">L-selectin</text>
<text transform="translate(196.3 941.8) scale(1.0103 1)" class="leg">DMSO</text>
<text transform="translate(392.78 942.92) scale(0.9880 1)" class="leg">fMLP</text>
<text transform="translate(194.61 977.92) scale(1.0073 1)" class="leg">Isotype antibody control</text>
</svg>
</body></html>
